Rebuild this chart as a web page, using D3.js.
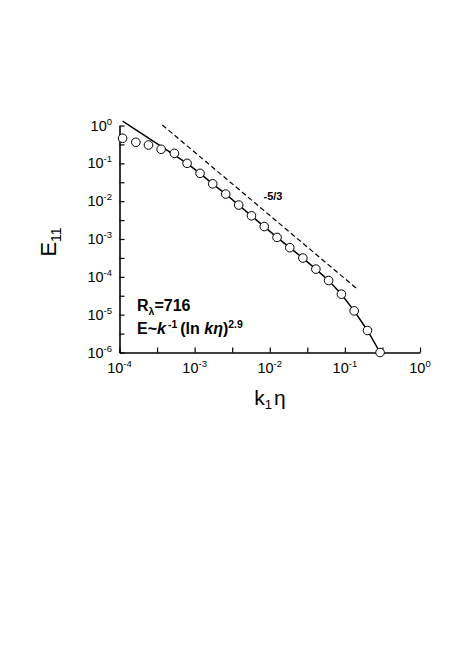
<!DOCTYPE html>
<html>
<head>
<meta charset="utf-8">
<script src="https://cdn.jsdelivr.net/npm/d3@7"></script>
<style>
  html, body { margin: 0; padding: 0; background: #fff; }
  svg { display: block; }
  text { font-family: "Liberation Sans", Arial, Helvetica, sans-serif; fill: #000; }
</style>
</head>
<body>
<svg id="chart" width="457" height="658"></svg>
<script>
// ---- data ----
const kData = [1.1e-4, 1.65e-4, 2.43e-4, 3.58e-4, 5.38e-4, 7.94e-4, 1.18e-3, 1.74e-3, 2.59e-3, 3.86e-3,
               5.71e-3, 8.45e-3, 1.25e-2, 1.85e-2, 2.76e-2, 4.11e-2, 6.08e-2, 9.0e-2, 0.133, 0.2, 0.294];
const eData = [0.46, 0.36, 0.305, 0.235, 0.184, 0.1, 0.0543, 0.0287, 0.0154, 7.9e-3,
               4.1e-3, 2.13e-3, 1.10e-3, 5.9e-4, 3.13e-4, 1.6e-4, 8.0e-5, 3.48e-5, 1.26e-5, 3.82e-6, 1.0e-6];
const lineK = [1.1e-4, 7.94e-4, 1.18e-3, 1.74e-3, 2.59e-3, 3.86e-3, 5.71e-3, 8.45e-3, 1.25e-2, 1.85e-2,
               2.76e-2, 4.11e-2, 6.08e-2, 9.0e-2, 0.133, 0.2, 0.294];
const lineE = [1.31, 0.1, 0.0543, 0.0287, 0.0154, 7.9e-3, 4.1e-3, 2.13e-3, 1.10e-3, 5.9e-4,
               3.13e-4, 1.6e-4, 8.0e-5, 3.48e-5, 1.26e-5, 3.82e-6, 1.0e-6];
const dashK = [3.72e-4, 0.143];
const dashE = [1.03, 4.93e-5];
const xTickExps = [-4, -3, -2, -1, 0];
const yTickExps = [0, -1, -2, -3, -4, -5, -6];
const slopeLabel = "-5/3";
const reLabel = "716";

// ---- layout ----
const svg = d3.select("#chart");
const x = d3.scaleLog().domain([1e-4, 1]).range([119.5, 420]);
const y = d3.scaleLog().domain([1e-6, 1]).range([352.5, 125.5]);
const tickLen = 5;

// minor (half-decade) ticks
const xMinor = xTickExps.slice(0, -1).map(e => Math.pow(10, e + 0.5));
const yMinor = yTickExps.slice(1).map(e => Math.pow(10, e + 0.5));

const g = svg.append("g");

// bottom axis
const xAxis = d3.axisBottom(x)
  .tickValues(xTickExps.map(e => Math.pow(10, e)).concat(xMinor))
  .tickSizeInner(-tickLen).tickSizeOuter(0).tickFormat("");
const gx = g.append("g").attr("transform", `translate(0,${y(1e-6)})`).call(xAxis);
gx.select(".domain").attr("stroke", "#000").attr("stroke-width", 1.6);
gx.selectAll(".tick line").attr("stroke", "#000").attr("stroke-width", 1.2);

// left axis
const yAxis = d3.axisLeft(y)
  .tickValues(yTickExps.map(e => Math.pow(10, e)).concat(yMinor))
  .tickSizeInner(-tickLen).tickSizeOuter(0).tickFormat("");
const gy = g.append("g").attr("transform", `translate(${x(1e-4)},0)`).call(yAxis);
gy.select(".domain").attr("stroke", "#000").attr("stroke-width", 1.6);
gy.selectAll(".tick line").attr("stroke", "#000").attr("stroke-width", 1.2);

// tick labels: 10^n
xTickExps.forEach(e => {
  const t = g.append("text").attr("x", x(Math.pow(10, e))).attr("y", 373)
    .attr("text-anchor", "middle").attr("font-size", 14.5);
  t.append("tspan").text("10");
  t.append("tspan").attr("font-size", 9.5).attr("dy", -6).text(e === 0 ? "0" : "-" + Math.abs(e));
});
yTickExps.forEach(e => {
  const t = g.append("text").attr("x", 112).attr("y", y(Math.pow(10, e)) + 5)
    .attr("text-anchor", "end").attr("font-size", 14.5);
  t.append("tspan").text("10");
  t.append("tspan").attr("font-size", 9.5).attr("dy", -6).text(e === 0 ? "0" : "-" + Math.abs(e));
});

// axis titles
const xt = g.append("text").attr("x", 270).attr("y", 405).attr("text-anchor", "middle").attr("font-size", 21);
xt.append("tspan").text("k");
xt.append("tspan").attr("font-size", 13).attr("dy", 4).text("1");
xt.append("tspan").attr("dy", -4).attr("dx", 2).text("η");

const yt = g.append("text").attr("transform", "translate(56,242) rotate(-90)")
  .attr("text-anchor", "middle").attr("font-size", 22);
yt.append("tspan").text("E");
yt.append("tspan").attr("font-size", 14).attr("dy", 5).text("11");

// model line
const line = d3.line().x(d => x(d[0])).y(d => y(d[1]));
g.append("path").datum(lineK.map((k, i) => [k, lineE[i]]))
  .attr("d", line).attr("fill", "none").attr("stroke", "#000").attr("stroke-width", 1.5);

// -5/3 dashed line
g.append("path").datum(dashK.map((k, i) => [k, dashE[i]]))
  .attr("d", line).attr("fill", "none").attr("stroke", "#000").attr("stroke-width", 1.2)
  .attr("stroke-dasharray", "5,3");

// data circles
g.append("g").selectAll("circle").data(kData.map((k, i) => [k, eData[i]])).join("circle")
  .attr("cx", d => x(d[0])).attr("cy", d => y(d[1])).attr("r", 4.3)
  .attr("fill", "#fff").attr("stroke", "#000").attr("stroke-width", 1);

// annotations
g.append("text").attr("x", 273).attr("y", 200).attr("text-anchor", "middle")
  .attr("font-size", 11).attr("font-weight", "bold").text(slopeLabel);

const r1 = g.append("text").attr("x", 137).attr("y", 310.5).attr("font-size", 16).attr("font-weight", "bold");
r1.append("tspan").text("R");
r1.append("tspan").attr("font-size", 10.5).attr("dy", 4).text("λ");
r1.append("tspan").attr("dy", -4).text("=" + reLabel);

const r2 = g.append("text").attr("x", 137).attr("y", 334.3).attr("font-size", 16).attr("font-weight", "bold");
r2.append("tspan").text("E~");
r2.append("tspan").attr("font-style", "italic").text("k");
r2.append("tspan").attr("font-size", 10.5).attr("dy", -6).attr("dx", 2).text("-1");
r2.append("tspan").attr("dy", 6).attr("dx", 3).text("(ln ");
r2.append("tspan").attr("font-style", "italic").text("kη");
r2.append("tspan").text(")");
r2.append("tspan").attr("font-size", 10.5).attr("dy", -6).text("2.9");
</script>
</body>
</html>
